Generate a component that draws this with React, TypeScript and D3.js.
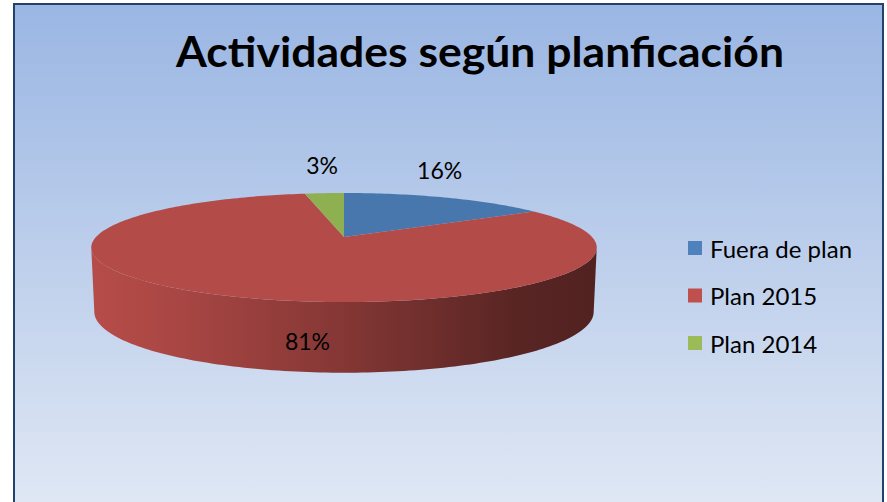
import React from "react";
import * as d3 from "d3";

const categories = ["Fuera de plan", "Plan 2015", "Plan 2014"];
const values = [16, 81, 3];
const valueLabels = ["16%", "81%", "3%"];
const faceColors = ["#4777AC", "#B34B48", "#8FB050"];
const legendColors = ["#4F81BD", "#C0504D", "#9BBB59"];
const title = "Actividades según planficación";

const W = 887;
const H = 502;

// perspective pie geometry
const cx = 344;
const cyTop = 237;
const cyBot = 300;
const A = 248;
const B = 52.5;
const A2 = 245;
const B2 = 58.7;
const k = 0.193;

function projTop(theta: number, r = 1): [number, number] {
  const u = r * Math.sin(theta);
  const v = r * Math.cos(theta);
  const w = 1 + k * v;
  return [cx + (A * u) / w, cyTop - (B * v) / w];
}
function projBot(theta: number, r = 1): [number, number] {
  const u = r * Math.sin(theta);
  const v = r * Math.cos(theta);
  const w = 1 + k * v;
  return [cx + (A2 * u) / w, cyBot - (B2 * v) / w];
}

function samples(a0: number, a1: number) {
  const n = Math.max(4, Math.ceil(Math.abs(a1 - a0) / 0.02));
  return d3.range(n + 1).map((i) => a0 + ((a1 - a0) * i) / n);
}

export default function App() {
  const pie = d3
    .pie<number>()
    .sort(null)
    .value((d) => d)
    .startAngle(0)
    .endAngle(2 * Math.PI);
  const arcs = pie(values);
  const line = d3.line();

  const sideStart = Math.acos(-k);
  const sideEnd = 2 * Math.PI - sideStart;

  const sides = arcs
    .map((a, i) => {
      const s = Math.max(a.startAngle, sideStart);
      const e = Math.min(a.endAngle, sideEnd);
      if (e <= s) return null;
      const top = samples(s, e).map((t) => projTop(t));
      const bot = samples(e, s).map((t) => projBot(t));
      return { i, d: line([...top, ...bot])! + "Z" };
    })
    .filter(Boolean) as { i: number; d: string }[];

  const faces = arcs.map((a, i) => {
    const pts = [[cx, cyTop] as [number, number], ...samples(a.startAngle, a.endAngle).map((t) => projTop(t))];
    return { i, d: line(pts)! + "Z" };
  });

  const labelPos = arcs.map((a, i) => {
    const mid = (a.startAngle + a.endAngle) / 2;
    if (a.endAngle - a.startAngle < Math.PI) {
      const [x, y] = projTop(mid, 0.96);
      return [x - 3, y - 26] as [number, number];
    }
    const t = Math.PI + 0.12;
    const p1 = projTop(t);
    const p2 = projBot(t);
    return [(p1[0] + p2[0]) / 2, (p1[1] + p2[1]) / 2 + 7] as [number, number];
  });

  const legendY = d3.scalePoint<string>().domain(categories).range([248, 343]);

  return (
    <svg
      width={W}
      height={H}
      style={{ position: "absolute", left: 0, top: 0, background: "#ffffff" }}
      fontFamily="Lato, 'Open Sans', sans-serif"
    >
      <defs>
        <linearGradient id="bg" gradientUnits="userSpaceOnUse" x1="0" y1="4" x2="0" y2="502">
          <stop offset="0" stopColor="#9AB6E3" />
          <stop offset="1" stopColor="#DFE7F4" />
        </linearGradient>
        {sides.map((s) => {
          const c = d3.color(faceColors[s.i])!;
          return (
            <linearGradient
              key={s.i}
              id={"side" + s.i}
              gradientUnits="userSpaceOnUse"
              x1={cx - A}
              y1="0"
              x2={cx + A}
              y2="0"
            >
              <stop offset="0" stopColor={c.brighter(0.05).formatHex()} />
              <stop offset="0.18" stopColor={c.darker(0.2).formatHex()} />
              <stop offset="0.5" stopColor={c.darker(0.85).formatHex()} />
              <stop offset="0.85" stopColor={c.darker(2.0).formatHex()} />
              <stop offset="1" stopColor={c.darker(2.2).formatHex()} />
            </linearGradient>
          );
        })}
      </defs>
      <rect x={14} y={4} width={869} height={600} fill="url(#bg)" stroke="#22416B" strokeWidth={2} />

      <text
        x={480}
        y={67}
        textAnchor="middle"
        fontSize={42}
        fontWeight="bold"
        fill="#000"
        textLength={608}
        lengthAdjust="spacingAndGlyphs"
      >
        {title}
      </text>

      {sides.map((s) => (
        <path key={"s" + s.i} d={s.d} fill={`url(#side${s.i})`} />
      ))}
      {faces.map((f) => (
        <path key={"f" + f.i} d={f.d} fill={faceColors[f.i]} />
      ))}

      {labelPos.map((p, i) => (
        <text key={"l" + i} x={p[0]} y={p[1]} textAnchor="middle" dominantBaseline="middle" fontSize={23} fill="#000">
          {valueLabels[i]}
        </text>
      ))}

      {categories.map((c, i) => (
        <g key={c} transform={`translate(0,${legendY(c)})`}>
          <rect x={688} y={-7} width={14} height={14} fill={legendColors[i]} />
          <text x={710} y={0} dominantBaseline="central" fontSize={24} fill="#000">
            {c}
          </text>
        </g>
      ))}
    </svg>
  );
}
